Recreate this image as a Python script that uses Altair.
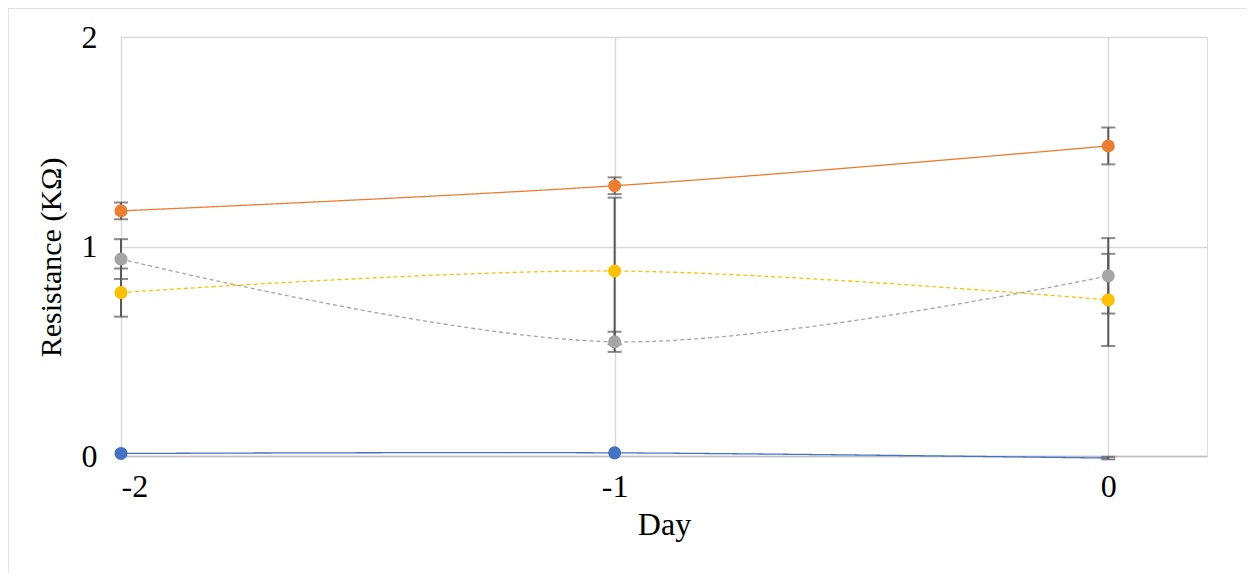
import altair as alt
import pandas as pd

days = [-2, -1, 0]
series_names = ["S1", "S2", "S3", "S4"]
colors = ["#4472C4", "#ED7D31", "#A5A5A5", "#FFC000"]
dashes = [[1, 0], [1, 0], [4, 3], [4, 3]]
values = {
    "S1": [0.012, 0.015, -0.01],
    "S2": [1.17, 1.29, 1.48],
    "S3": [0.94, 0.545, 0.86],
    "S4": [0.78, 0.883, 0.745],
}
errors = {
    "S1": [0.0, 0.0, 0.006],
    "S2": [0.04, 0.04, 0.088],
    "S3": [0.095, 0.048, 0.18],
    "S4": [0.115, 0.35, 0.22],
}

rows = []
for s in series_names:
    for d, v, e in zip(days, values[s], errors[s]):
        rows.append({"series": s, "day": d, "value": v, "lo": v - e, "hi": v + e, "err": e})
df = pd.DataFrame(rows)

W, H = 1086, 419
font = "Liberation Serif"
fs = 32

xs = alt.Scale(domain=[-2, 0.2], nice=False, zero=False)
ys = alt.Scale(domain=[0, 2], nice=False)
col = alt.Color("series:N", scale=alt.Scale(domain=series_names, range=colors), legend=None)

base = alt.Chart(df)

frame = alt.Chart(pd.DataFrame({"a": [0]})).mark_rect(
    fill=None, stroke="#d9d9d9", strokeWidth=1.5, clip=False
).encode(x=alt.value(-113), x2=alt.value(1129), y=alt.value(-29), y2=alt.value(560))

lines = []
for s, c, dsh in zip(series_names, colors, dashes):
    lines.append(
        base.transform_filter(alt.datum.series == s)
        .mark_line(interpolate="cardinal", strokeWidth=1.3, color=c, strokeDash=dsh)
        .encode(
            x=alt.X("day:Q", scale=xs, axis=alt.Axis(
                values=[-2, -1, 0], title="Day", grid=True, gridColor="#d9d9d9", gridWidth=1.5,
                domain=True, domainColor="#bfbfbf", domainWidth=1.5, ticks=False,
                labelExpr="'' + datum.value",
                labelFont=font, labelFontSize=fs, labelColor="black", labelPadding=15,
                titleFont=font, titleFontSize=fs, titleFontWeight="normal", titleColor="black",
                titlePadding=7)),
            y=alt.Y("value:Q", scale=ys, axis=alt.Axis(
                values=[0, 1, 2], title="Resistance (KΩ)", grid=True, gridColor="#d9d9d9",
                gridWidth=1.5, domain=False, ticks=False,
                labelExpr="'' + datum.value",
                labelFont=font, labelFontSize=fs, labelColor="black", labelPadding=24,
                titleFont=font, titleFontSize=30, titleFontWeight="normal", titleColor="black",
                titlePadding=15, titleY=220)),
            order="day:Q",
        )
    )

bars = base.transform_filter(alt.datum.err > 0).mark_rule(color="#595959", strokeWidth=2).encode(
    x=alt.X("day:Q", scale=xs), y=alt.Y("lo:Q", scale=ys), y2="hi:Q")
cap_lo = base.transform_filter(alt.datum.err > 0).mark_tick(
    orient="horizontal", color="#595959", thickness=2, size=14).encode(
    x=alt.X("day:Q", scale=xs), y=alt.Y("lo:Q", scale=ys))
cap_hi = base.transform_filter(alt.datum.err > 0).mark_tick(
    orient="horizontal", color="#595959", thickness=2, size=14).encode(
    x=alt.X("day:Q", scale=xs), y=alt.Y("hi:Q", scale=ys))

points = base.transform_filter(alt.datum.value >= 0).mark_circle(size=170, opacity=1).encode(
    x=alt.X("day:Q", scale=xs), y=alt.Y("value:Q", scale=ys), color=col)

chart = alt.layer(frame, *lines, bars, cap_lo, cap_hi, points).properties(
    width=W, height=H,
    autosize=alt.AutoSizeParams(type="none"),
    padding={"left": 113, "top": 29, "right": 40, "bottom": 120},
).configure_view(stroke=None).configure(background="white")

chart.save("out.html", embed_options={"renderer": "svg", "actions": False})
